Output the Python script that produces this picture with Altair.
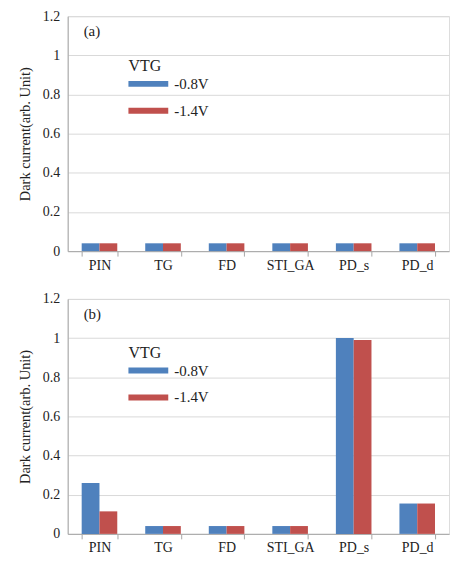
import altair as alt
import pandas as pd

# Measured parts and gate-bias series
categories = ["PIN", "TG", "FD", "STI_GA", "PD_s", "PD_d"]
series = ["-0.8V", "-1.4V"]
colors = ["#4f81bd", "#c0504d"]

# Panel (a): normalized dark current per part
panel_a_08 = [0.04, 0.04, 0.04, 0.04, 0.04, 0.04]
panel_a_14 = [0.04, 0.04, 0.04, 0.04, 0.04, 0.04]

# Panel (b): normalized dark current per part
panel_b_08 = [0.26, 0.04, 0.04, 0.04, 1.0, 0.155]
panel_b_14 = [0.115, 0.04, 0.04, 0.04, 0.99, 0.155]

y_ticks = [0, 0.2, 0.4, 0.6, 0.8, 1.0, 1.2]
FONT = "Liberation Serif, Times New Roman, serif"

# wide flat swatch for the legend entries, drawn to the right of the symbol slot
SWATCH = "M-1,-0.3H3V0.3H-1Z"


def panel(tag, v08, v14, legend_y):
    df = pd.DataFrame({
        "part": categories * 2,
        "VTG": [series[0]] * len(categories) + [series[1]] * len(categories),
        "current": v08 + v14,
    })
    bars = alt.Chart(df).mark_bar().encode(
        x=alt.X(
            "part:N",
            sort=categories,
            scale=alt.Scale(paddingInner=0.44, paddingOuter=0.22),
            axis=alt.Axis(
                title=None, labelAngle=0, tickBand="extent", ticks=True,
                tickSize=5, tickColor="#a6a6a6", domainColor="#a6a6a6",
                labelFont=FONT, labelFontSize=14, labelColor="#222",
                labelPadding=2,
            ),
        ),
        xOffset=alt.XOffset(
            "VTG:N", sort=series,
            scale=alt.Scale(paddingInner=0, paddingOuter=0),
        ),
        y=alt.Y(
            "current:Q",
            scale=alt.Scale(domain=[0, 1.2], nice=False),
            axis=alt.Axis(
                values=y_ticks, format="~g", title="Dark current(arb. Unit)",
                titleFont=FONT, titleFontSize=14.5, titleFontWeight="normal",
                titleColor="#222", titlePadding=10,
                labelFont=FONT, labelFontSize=14, labelColor="#222",
                labelPadding=8, ticks=False, domainColor="#a6a6a6",
                grid=True, gridColor="#d9d9d9",
            ),
        ),
        color=alt.Color(
            "VTG:N",
            sort=series,
            scale=alt.Scale(domain=series, range=colors),
            legend=alt.Legend(
                orient="none", legendX=61, legendY=legend_y,
                title="VTG", titleFont=FONT, titleFontSize=16,
                titleFontWeight="normal", titleColor="#222",
                titlePadding=0,
                labelFont=FONT, labelFontSize=15, labelColor="#222",
                symbolType=SWATCH, symbolSize=400, symbolStrokeWidth=0,
                labelOffset=26, rowPadding=9,
            ),
        ),
    )
    label = alt.Chart(pd.DataFrame({"t": [tag]})).mark_text(
        font=FONT, fontSize=15, color="#222", align="left", baseline="middle"
    ).encode(text="t:N", x=alt.value(16), y=alt.value(15))
    return alt.layer(bars, label).properties(width=383, height=236)


chart = alt.vconcat(
    panel("(a)", panel_a_08, panel_a_14, 42),
    panel("(b)", panel_b_08, panel_b_14, 46),
    spacing=18,
).resolve_legend(color="independent").properties(
    padding={"left": 17, "top": 7, "right": 0, "bottom": 5}
).configure_view(stroke=None).configure(background="white")

chart.save("out.html", embed_options={"renderer": "svg", "actions": False})
